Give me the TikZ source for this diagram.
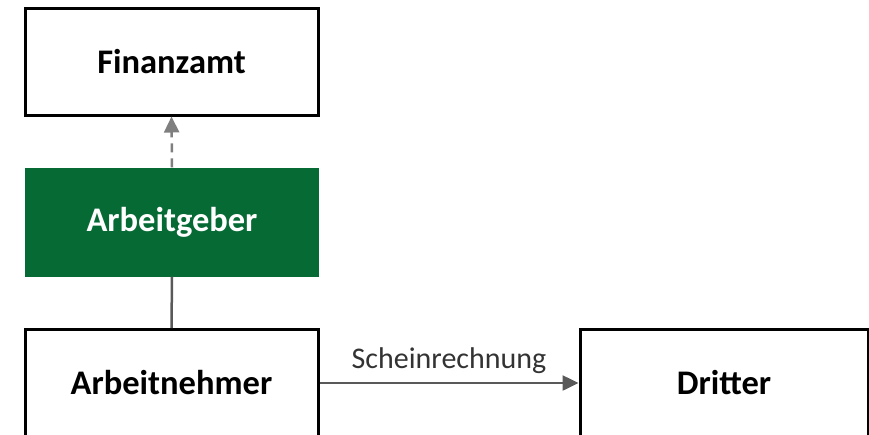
\documentclass[tikz,border=0pt]{standalone}
\usepackage{fontspec}
\setmainfont{Carlito}
\usetikzlibrary{arrows.meta}
\definecolor{agreen}{HTML}{066A35}
\definecolor{lgray}{HTML}{595959}
\definecolor{dgray}{HTML}{7F7F7F}
\begin{document}
\begin{tikzpicture}[x=1pt,y=-1pt,
  box/.style={draw=black,line width=3pt,fill=white,minimum width=293pt,minimum height=107pt,inner sep=0pt,font=\fontsize{34.5}{40}\selectfont\bfseries,text=black},
  gbox/.style={fill=agreen,minimum width=294pt,minimum height=109pt,inner sep=0pt,font=\fontsize{34.5}{40}\selectfont\bfseries,text=white},
  conn/.style={draw=lgray,line width=2.5pt},
  tip/.style={-{Triangle[length=16pt,width=15pt]}}]
\useasboundingbox (0,0) rectangle (869,434);
\node[box] (fa) at (171.5,61.5) {Finanzamt};
\node[gbox] (ag) at (172,222) {Arbeitgeber};
\node[box] (an) at (171.5,383) {Arbeitnehmer};
\node[box,minimum width=288pt] (dr) at (724,383) {Dritter};
\draw[conn,draw=dgray,dashed,dash pattern=on 9pt off 6pt,-{Triangle[length=16pt,width=15pt,fill=dgray]}] (ag.north) -- (fa.south);
\draw[conn] (ag.south) -- (an.north);
\draw[conn,tip] (an.east) -- node[above=5pt,font=\fontsize{30}{35}\selectfont,text=black!80] (lbl) {Scheinrechnung} (dr.west);
\end{tikzpicture}
\end{document}
